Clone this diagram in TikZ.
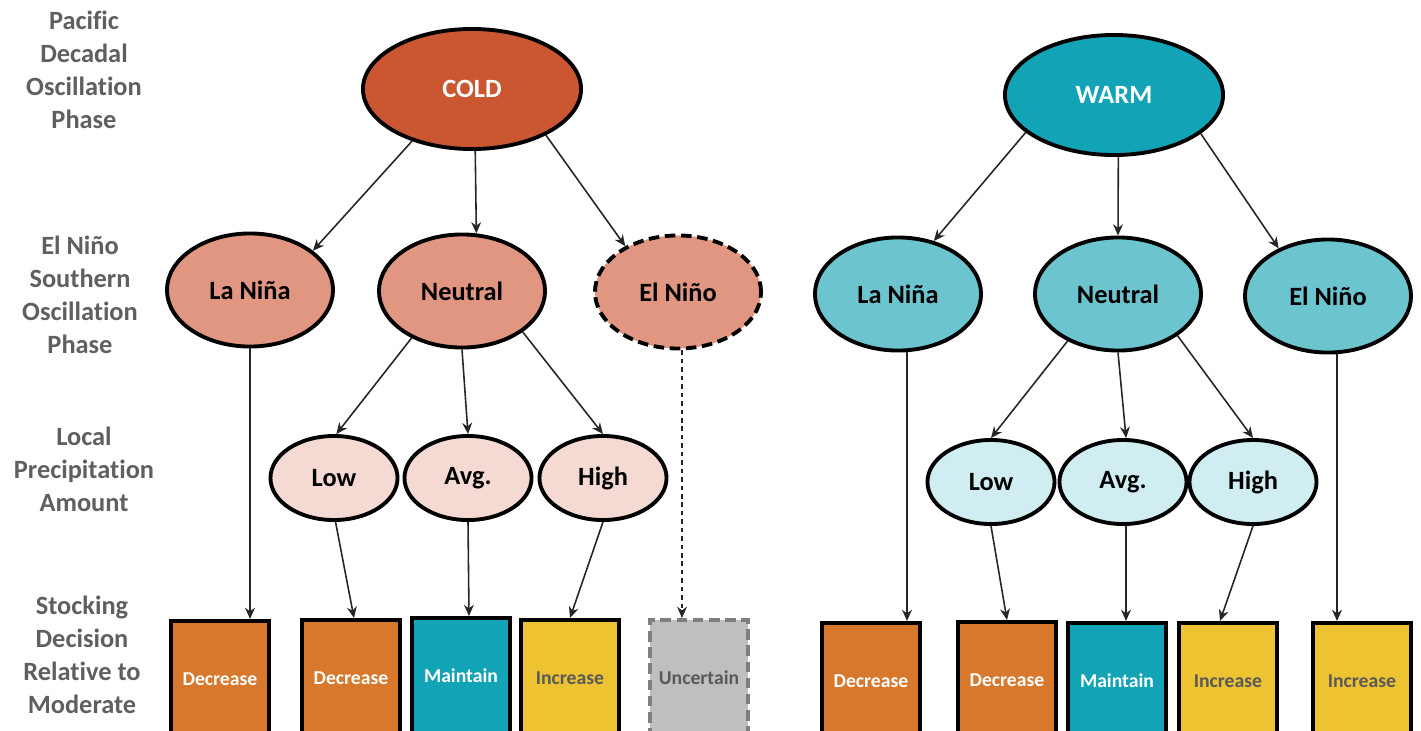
\documentclass[tikz,border=0pt]{standalone}
\usepackage{fontspec}
\setmainfont{Carlito}[Ligatures=NoCommon]
\usetikzlibrary{arrows.meta,shapes.geometric}

\begin{document}
\begin{tikzpicture}[x=0.01cm,y=-0.01cm,
    phase/.style={ellipse,draw=black,line width=1.1pt,inner sep=0pt,
      font=\fontsize{7.5}{9}\selectfont\bfseries},
    pdophase/.style={phase,minimum width=2.18cm,minimum height=1.2cm,text=white},
    ensophase/.style={phase,minimum width=1.66cm,minimum height=1.13cm},
    precip/.style={phase,minimum width=1.27cm,minimum height=0.84cm},
    decision/.style={rectangle,draw=black,line width=1pt,anchor=north,
      minimum width=0.98cm,minimum height=1.16cm,inner sep=0pt,
      font=\fontsize{5.6}{6.5}\selectfont\bfseries},
    rowlabel/.style={align=center,text=r95g95b95,
      font=\fontsize{7.5}{9.4}\selectfont\bfseries},
    link/.style={line width=0.45pt,draw=black!85,-{Stealth[length=3.2pt,width=2.8pt]}}]
  % Colours
  \definecolor{r202g86b50}{RGB}{202,86,50}%
  \definecolor{r19g163b182}{RGB}{19,163,182}%
  \definecolor{r224g150b128}{RGB}{224,150,128}%
  \definecolor{r245g218b211}{RGB}{245,218,211}%
  \definecolor{r108g196b207}{RGB}{108,196,207}%
  \definecolor{r208g237b241}{RGB}{208,237,241}%
  \definecolor{r216g120b45}{RGB}{216,120,45}%
  \definecolor{r237g195b49}{RGB}{237,195,49}%
  \definecolor{r191g191b191}{RGB}{191,191,191}%
  \definecolor{r127g127b127}{RGB}{127,127,127}%
  \definecolor{r95g95b95}{RGB}{95,95,95}%
  \definecolor{r89g89b89}{RGB}{89,89,89}%

  \useasboundingbox (0,0) rectangle (1421,730);

  % Drawing row labels
  \node[rowlabel] (lblpdo) at (84,70) {Pacific\\Decadal\\Oscillation\\Phase};
  \node[rowlabel] (lblenso) at (80,295) {El Niño\\Southern\\Oscillation\\Phase};
  \node[rowlabel] (lblprecip) at (84,469) {Local\\Precipitation\\Amount};
  \node[rowlabel] (lbldecision) at (82,655) {Stocking\\Decision\\Relative to\\Moderate};

  % Drawing cold tree
  \node[pdophase,fill=r202g86b50] (cold) at (472,89) {COLD};
  \node[ensophase,fill=r224g150b128] (lnc) at (250,290) {La Niña};
  \node[ensophase,fill=r224g150b128] (neuc) at (462,291) {Neutral};
  \node[ensophase,fill=r224g150b128,dash pattern=on 3pt off 1.6pt] (elnc) at (678,292) {El Niño};
  \node[precip,fill=r245g218b211] (lowc) at (334,478) {Low};
  \node[precip,fill=r245g218b211] (avgc) at (468,478) {Avg.};
  \node[precip,fill=r245g218b211] (highc) at (603,478) {High};
  \node[decision,fill=r216g120b45,text=white] (decc1) at (220,619) {Decrease};
  \node[decision,fill=r216g120b45,text=white] (decc2) at (351,618) {Decrease};
  \node[decision,fill=r19g163b182,text=white] (mainc) at (461,616) {Maintain};
  \node[decision,fill=r237g195b49,text=r89g89b89] (incc) at (570,618) {Increase};
  \node[decision,fill=r191g191b191,draw=r127g127b127,text=r89g89b89,
    dash pattern=on 3pt off 1.6pt] (uncc) at (699,618) {Uncertain};

  \draw[link] (cold.221) -- (lnc.32);
  \draw[link] (cold.273) -- (neuc.76);
  \draw[link] (cold.328) -- (elnc.139);
  \draw[link] (lnc.south) -- (lnc.south |- decc1.north);
  \draw[link] (neuc.223) -- (lowc.87);
  \draw[link] (neuc.270) -- (avgc.90);
  \draw[link] (neuc.326) -- (highc.90);
  \draw[link] (lowc.272) -- ([xshift=0.03cm]decc2.north);
  \draw[link] (avgc.270) -- ([xshift=0.08cm]mainc.north);
  \draw[link] (highc.270) -- (incc.north);
  \draw[link,dash pattern=on 1.3pt off 1.1pt] ([xshift=0.04cm]elnc.south)
    -- ([xshift=0.04cm]elnc.south |- uncc.north);

  % Drawing warm tree
  \node[pdophase,fill=r19g163b182] (warm) at (1114,95) {WARM};
  \node[ensophase,fill=r108g196b207] (lnw) at (898,294) {La Niña};
  \node[ensophase,fill=r108g196b207] (neuw) at (1118,294) {Neutral};
  \node[ensophase,fill=r108g196b207] (elnw) at (1328,296) {El Niño};
  \node[precip,fill=r208g237b241] (loww) at (991,482) {Low};
  \node[precip,fill=r208g237b241] (avgw) at (1123,482) {Avg.};
  \node[precip,fill=r208g237b241] (highw) at (1253,482) {High};
  \node[decision,fill=r216g120b45,text=white] (decw1) at (871,621) {Decrease};
  \node[decision,fill=r216g120b45,text=white] (decw2) at (1007,620) {Decrease};
  \node[decision,fill=r19g163b182,text=white] (mainw) at (1117,621) {Maintain};
  \node[decision,fill=r237g195b49,text=r89g89b89] (incw1) at (1228,621) {Increase};
  \node[decision,fill=r237g195b49,text=r89g89b89] (incw2) at (1362,621) {Increase};

  \draw[link] (warm.203) -- (lnw.56);
  \draw[link] (warm.274) -- (neuw.90);
  \draw[link] (warm.336) -- (elnw.136);
  \draw[link] ([xshift=0.09cm]lnw.south) -- ([xshift=0.09cm]lnw.south |- decw1.north);
  \draw[link] (neuw.223) -- (loww.90);
  \draw[link] (neuw.270) -- (avgw.86);
  \draw[link] (neuw.325) -- (highw.90);
  \draw[link] (loww.270) -- (decw2.north);
  \draw[link] ([xshift=0.03cm]avgw.south) -- ([xshift=0.03cm]avgw.south |- mainw.north);
  \draw[link] (highw.270) -- ([xshift=-0.08cm]incw1.north);
  \draw[link] ([xshift=0.09cm]elnw.south) -- ([xshift=0.09cm]elnw.south |- incw2.north);
\end{tikzpicture}
\end{document}
